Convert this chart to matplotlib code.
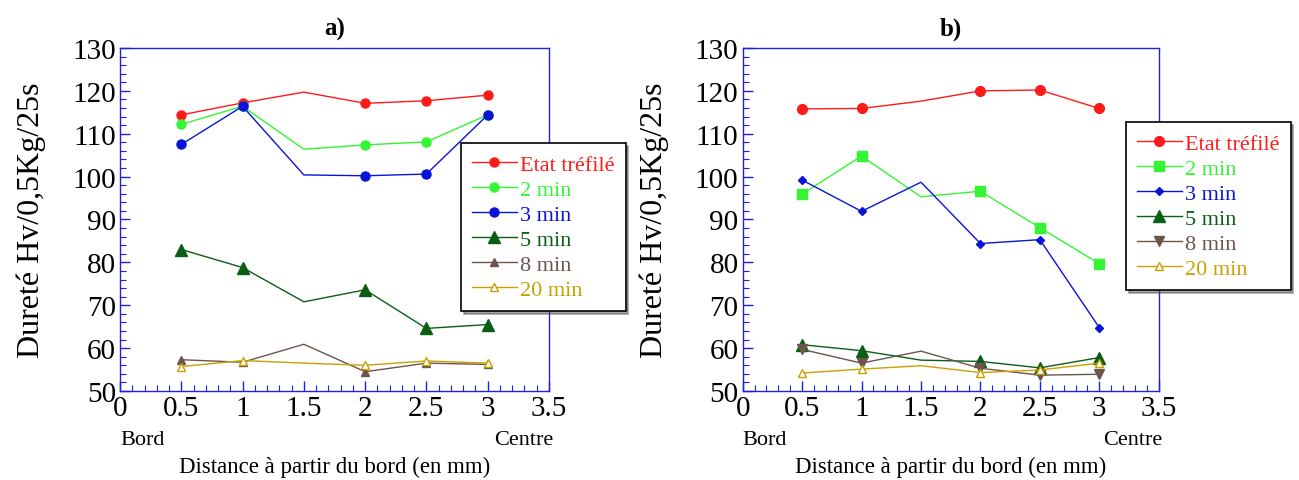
import matplotlib
matplotlib.use("Agg")
import matplotlib.pyplot as plt
from matplotlib.ticker import MultipleLocator

plt.rcParams['font.family'] = ['Liberation Serif', 'DejaVu Serif']

x = [0.5, 1.0, 1.5, 2.0, 2.5, 3.0]
series_names = ["Etat tréfilé", "2 min", "3 min", "5 min", "8 min", "20 min"]
xticks = [0, 0.5, 1, 1.5, 2, 2.5, 3, 3.5]
xtick_labels = ["0", "0.5", "1", "1.5", "2", "2.5", "3", "3.5"]
yticks = [50, 60, 70, 80, 90, 100, 110, 120, 130]

# Panel a)
a_etat = [114.4, 117.2, 119.7, 117.1, 117.7, 119.0]
a_2min = [112.2, 116.4, 106.4, 107.4, 108.1, 114.4]
a_3min = [107.5, 116.4, 100.4, 100.2, 100.6, 114.4]
a_5min = [83.0, 78.8, 70.8, 73.6, 64.6, 65.5]
a_8min = [57.3, 56.7, 60.9, 54.5, 56.5, 56.2]
a_20min = [55.7, 57.1, 56.5, 56.0, 57.0, 56.5]

# Panel b)
b_etat = [115.8, 115.9, 117.6, 120.0, 120.2, 115.9]
b_2min = [95.9, 104.8, 95.3, 96.6, 88.1, 79.7]
b_3min = [99.2, 91.9, 98.7, 84.4, 85.3, 64.8]
b_5min = [60.8, 59.4, 57.2, 56.9, 55.4, 57.8]
b_8min = [59.7, 56.5, 59.3, 55.3, 53.7, 53.9]
b_20min = [54.2, 55.1, 55.9, 54.3, 54.9, 56.5]

colors = ["#ff1a1a", "#33f533", "#0a14d8", "#0b5e16", "#6b554d", "#c9a000"]
# markers shown at all points except x = 1.5
mark_idx = [0, 1, 3, 4, 5]

fig = plt.figure(figsize=(12.99, 4.81), dpi=100)
ax_a = fig.add_axes([120/1299, 89/481, 429/1299, 343/481])
ax_b = fig.add_axes([742.7/1299, 89/481, 416/1299, 343/481])

styles_a = [
    dict(marker='o', ms=6.5, mfc=None),
    dict(marker='o', ms=6.5, mfc=None),
    dict(marker='o', ms=6.5, mfc=None),
    dict(marker='^', ms=9, mfc=None),
    dict(marker='^', ms=5.5, mfc=None),
    dict(marker='^', ms=5.5, mfc='white'),
]
styles_b = [
    dict(marker='o', ms=7, mfc=None),
    dict(marker='s', ms=6.5, mfc=None),
    dict(marker='D', ms=4.5, mfc=None),
    dict(marker='^', ms=9, mfc=None),
    dict(marker='v', ms=6.5, mfc=None),
    dict(marker='^', ms=5.5, mfc='white'),
]

data_a = [a_etat, a_2min, a_3min, a_5min, a_8min, a_20min]
data_b = [b_etat, b_2min, b_3min, b_5min, b_8min, b_20min]

def setup(ax, data, styles, title, leg_anchor):
    for vals, name, c, st in zip(data, series_names, colors, styles):
        mfc = st['mfc'] if st['mfc'] is not None else c
        ax.plot(x, vals, color=c, lw=1.0, marker=st['marker'], ms=st['ms'],
                mfc=mfc, mec=c, markevery=mark_idx, label=name)
    ax.set_xlim(0, 3.5)
    ax.set_ylim(50, 130)
    ax.set_xticks(xticks, xtick_labels)
    ax.set_yticks(yticks)
    ax.xaxis.set_minor_locator(MultipleLocator(0.1))
    ax.yaxis.set_minor_locator(MultipleLocator(2))
    ax.tick_params(which='both', direction='in', color='#2020e0', top=False, right=False)
    ax.tick_params(which='major', length=7, width=1, labelsize=21, pad=3)
    ax.tick_params(which='minor', length=4, width=0.8)
    for s in ax.spines.values():
        s.set_color('#2020e0')
        s.set_linewidth(1.0)
    ax.set_ylabel("Dureté Hv/0,5Kg/25s", fontsize=23, labelpad=19)
    ax.set_title(title, fontsize=18, fontweight='bold', pad=10)
    ax.text(0.0, -0.14, "Bord", transform=ax.transAxes, ha='left', va='center', fontsize=16)
    ax.text(1.01, -0.14, "Centre", transform=ax.transAxes, ha='right', va='center', fontsize=16)
    ax.text(0.5, -0.22, "Distance à partir du bord (en mm)", transform=ax.transAxes,
            ha='center', va='center', fontsize=16.5)
    leg = ax.legend(loc='upper left', bbox_to_anchor=leg_anchor, fontsize=16,
                    frameon=True, fancybox=False, shadow=True, edgecolor='black',
                    framealpha=1, borderpad=0.5, labelspacing=0.2, handlelength=2.0,
                    handletextpad=0.15, borderaxespad=0)
    leg.get_frame().set_linewidth(1.2)
    for t, c in zip(leg.get_texts(), colors):
        t.set_color(c)
    leg.set_zorder(5)

setup(ax_a, data_a, styles_a, "a)", ((461-120)/429, (392-144)/343))
setup(ax_b, data_b, styles_b, "b)", ((1126-742.7)/416, (392-123)/343))

fig.savefig("out.png", dpi=100)
